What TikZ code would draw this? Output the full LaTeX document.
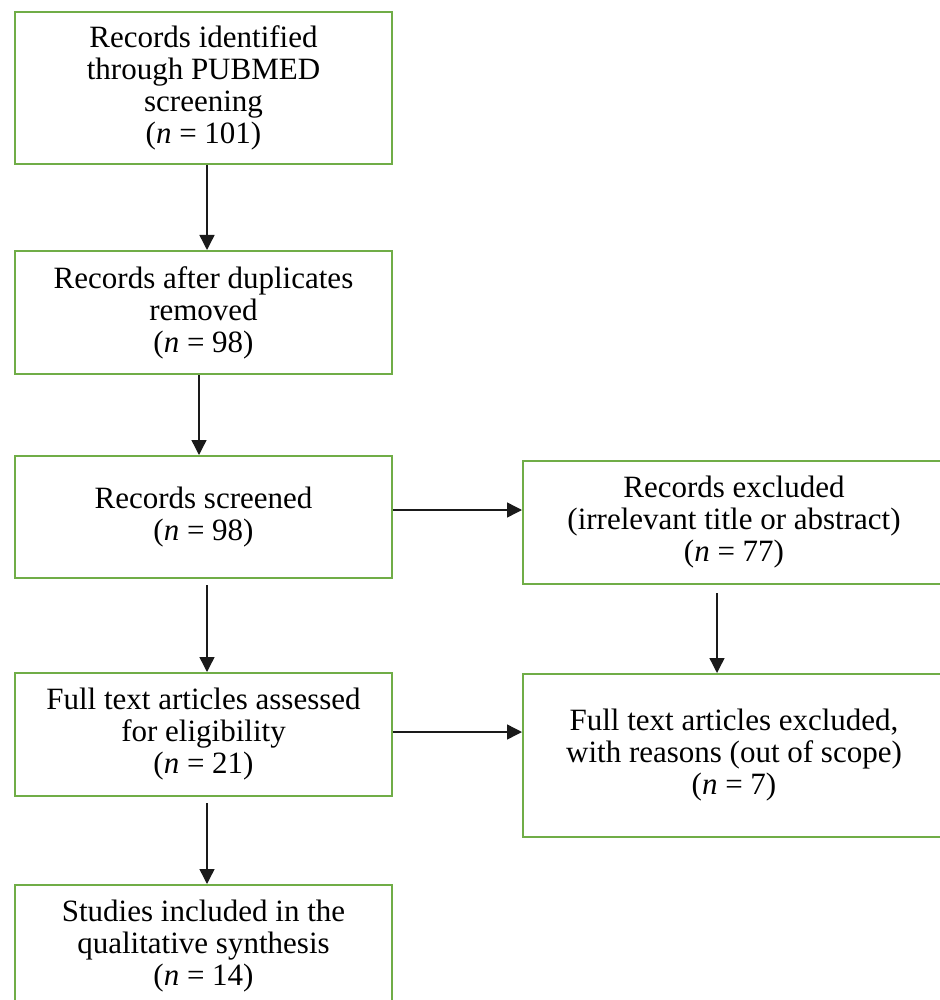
\documentclass[tikz,border=0pt]{standalone}
\usepackage{fontspec}
\setmainfont{Liberation Serif}
\usepackage{tikz}
\usetikzlibrary{positioning,arrows.meta,calc}
\definecolor{boxgreen}{HTML}{70AD47}
\definecolor{linegray}{HTML}{1A1A1A}

\begin{document}
\begin{tikzpicture}[x=0.5pt,y=-0.5pt,
  stagebox/.style={draw=boxgreen, line width=1pt, rectangle, align=center,
    font=\fontsize{15.5}{16}\selectfont, inner sep=0pt},
  flow/.style={draw=linegray, line width=0.7pt, -{Triangle[length=7.5pt,width=7.5pt]}}]
\useasboundingbox (0,0) rectangle (940,1000);
% left column
\node[stagebox, minimum width=188.5pt, minimum height=76pt] (ident) at (203.5,88)
  {Records identified\\through PUBMED\\screening\\(\textit{n} = 101)};
\node[stagebox, minimum width=188.5pt, minimum height=61.5pt] (dupl) at (203.5,312.5)
  {Records after duplicates\\removed\\(\textit{n} = 98)};
\node[stagebox, minimum width=188.5pt, minimum height=61pt] (screen) at (203.5,517)
  {Records screened\\(\textit{n} = 98)};
\node[stagebox, minimum width=188.5pt, minimum height=61.5pt] (full) at (203.5,734.5)
  {Full text articles assessed\\for eligibility\\(\textit{n} = 21)};
\node[stagebox, minimum width=188.5pt, minimum height=61.5pt] (incl) at (203.5,946.5)
  {Studies included in the\\qualitative synthesis\\(\textit{n} = 14)};
% right column
\node[stagebox, minimum width=211pt, minimum height=61.5pt] (excl) at (734,522.5)
  {Records excluded\\(irrelevant title or abstract)\\(\textit{n} = 77)};
\node[stagebox, minimum width=211pt, minimum height=81.5pt] (fullexcl) at (734,755.5)
  {Full text articles excluded,\\with reasons (out of scope)\\(\textit{n} = 7)};
% arrows
\draw[flow] ([xshift=1.75pt]ident.south) -- ([xshift=1.75pt]dupl.north);
\draw[flow] ([xshift=-2.25pt]dupl.south) -- ([xshift=-2.25pt]screen.north);
\draw[flow, shorten <=3pt] ([xshift=1.75pt]screen.south) -- ([xshift=1.75pt]full.north);
\draw[flow, shorten <=3pt] ([xshift=1.75pt]full.south) -- ([xshift=1.75pt]incl.north);
\draw[flow] ([yshift=3.5pt]screen.east) -- ([yshift=3.5pt]screen.east -| excl.west);
\draw[flow, shorten <=4pt] ([xshift=-8.5pt]excl.south) -- ([xshift=-8.5pt]fullexcl.north);
\draw[flow] ([yshift=1.25pt]full.east) -- ([yshift=1.25pt]full.east -| fullexcl.west);
\end{tikzpicture}
\end{document}
